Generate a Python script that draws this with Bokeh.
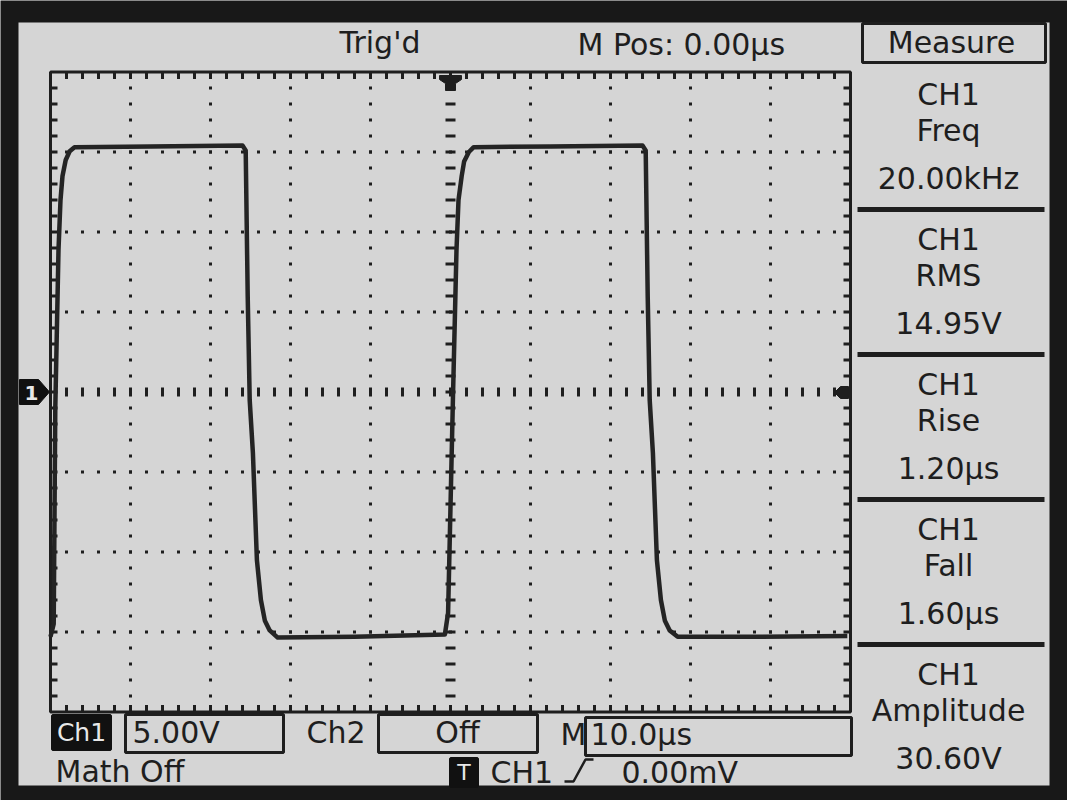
import numpy as np
from bokeh.plotting import figure
from bokeh.models import Range1d
from bokeh.core.properties import value
from bokeh.embed import file_html
from bokeh.resources import INLINE

# CH1 trace: time in microseconds (0 = trigger point), level in volts
t_us = [-50.0, -49.6, -49.4, -49.0, -48.75, -48.5, -48.1, -47.6, -47.0,
        -37.5, -26.0, -25.6, -25.35, -25.1, -24.7, -24.2, -23.7, -23.2,
        -22.6, -21.6, -12.0, -0.7, -0.3, 0.3, 0.75, 1.0, 1.4, 1.7, 2.3,
        2.9, 12.5, 24.0, 24.4, 24.65, 24.9, 25.3, 25.8, 26.3, 26.8, 27.4,
        28.4, 38.0, 49.6]
ch1_v = [-15.3, -14.5, -1.0, 8.9, 12.0, 13.5, 14.5, 15.05, 15.3,
         15.35, 15.4, 15.1, 6.0, -0.5, -3.8, -10.5, -13.0, -14.3,
         -14.9, -15.35, -15.3, -15.15, -13.8, -0.5, 8.9, 12.0, 13.5, 14.4, 15.0,
         15.3, 15.35, 15.4, 15.1, 6.0, -0.5, -3.8, -10.5, -13.0, -14.3, -14.9,
         -15.3, -15.3, -15.25]

time_per_div_us = 10.0
volts_per_div = 5.0
n_hdiv = 10
n_vdiv = 8
minor_per_div = 5

status_trig = "Trig'd"
status_pos = "M Pos: 0.00µs"
menu_title = "Measure"
measure_source = "CH1"
measure_names = ["Freq", "RMS", "Rise", "Fall", "Amplitude"]
measure_values = ["20.00kHz", "14.95V", "1.20µs", "1.60µs", "30.60V"]
ch1_label, ch1_scale = "Ch1", "5.00V"
ch2_label, ch2_state = "Ch2", "Off"
time_label, time_scale = "M", "10.0µs"
math_state = "Math Off"
trig_tag, trig_source, trig_level = "T", "CH1", "0.00mV"
ch_marker = "1"

# ---------------- layout (screen pixels of the photo) ----------------
W, H = 1067, 800
OFF = 0
GX0, GY0 = 50.0, 71.5
DIV = 80.0
GX1, GY1 = GX0 + n_hdiv * DIV, GY0 + n_vdiv * DIV
GXC, GYC = (GX0 + GX1) / 2, (GY0 + GY1) / 2
MINOR = DIV / minor_per_div

BEZEL = "#181818"
SCREEN = "#d5d5d5"
INK = "#1e1e1e"
TRACE = "#242424"
FONT = "DejaVu Sans"
FS = "30px"


def tx(X):
    return (X - GXC) * time_per_div_us / DIV


def vy(Y):
    return (GYC - Y) * volts_per_div / DIV


p = figure(width=W, height=H,
           x_range=Range1d(tx(OFF), tx(OFF + W)),
           y_range=Range1d(vy(OFF + H), vy(OFF)),
           output_backend="svg", toolbar_location=None,
           x_axis_location=None, y_axis_location=None,
           min_border=0, outline_line_color=None,
           background_fill_color=BEZEL, border_fill_color=BEZEL)
p.grid.visible = False

# screen
p.quad(left=[tx(18)], right=[tx(1049)], top=[vy(22)], bottom=[vy(785)],
       fill_color=SCREEN, line_color=None)

# graticule dots
dx, dy = [], []
for i in range(1, n_hdiv):
    if i == n_hdiv // 2:
        continue
    for k in range(1, n_vdiv * minor_per_div):
        dx.append(tx(GX0 + i * DIV)); dy.append(vy(GY0 + k * MINOR))
for j in range(1, n_vdiv):
    if j == n_vdiv // 2:
        continue
    for k in range(1, n_hdiv * minor_per_div):
        dx.append(tx(GX0 + k * MINOR)); dy.append(vy(GY0 + j * DIV))
p.scatter(dx, dy, marker="square", size=3, color=INK, line_color=None)

# center cross ticks
cx = [tx(GXC)] * (n_vdiv * minor_per_div - 1)
cy = [vy(GY0 + k * MINOR) for k in range(1, n_vdiv * minor_per_div)]
p.scatter(cx, cy, marker="dash", size=10, line_width=3, line_color=INK)
hx = [tx(GX0 + k * MINOR) for k in range(1, n_hdiv * minor_per_div)]
hy = [vy(GYC)] * len(hx)
p.scatter(hx, hy, marker="dash", size=9, angle=np.pi / 2, line_width=3, line_color=INK)

# frame ticks
TL = 7
p.scatter(hx, [vy(GY0 + TL / 2)] * len(hx), marker="dash", size=TL, angle=np.pi / 2, line_width=3, line_color=INK)
p.scatter(hx, [vy(GY1 - TL / 2)] * len(hx), marker="dash", size=TL, angle=np.pi / 2, line_width=3, line_color=INK)
p.scatter([tx(GX0 + TL / 2)] * len(cy), cy, marker="dash", size=TL, line_width=3, line_color=INK)
p.scatter([tx(GX1 - TL / 2)] * len(cy), cy, marker="dash", size=TL, line_width=3, line_color=INK)

# frame
p.quad(left=[tx(GX0)], right=[tx(GX1)], top=[vy(GY0)], bottom=[vy(GY1)],
       fill_color=None, line_color=INK, line_width=3)

# waveform
p.line(t_us, ch1_v, line_width=4.5, line_color=TRACE, line_join="round")

# markers
trig_px = [(439, 75), (461, 75), (461, 79), (455, 83), (455, 90), (445, 90), (445, 83), (439, 79)]
p.patch([tx(a) for a, b in trig_px], [vy(b) for a, b in trig_px], fill_color=INK, line_color=INK)
lvl_px = [(848, 386), (840, 386), (834, 392), (840, 398), (848, 398)]
p.patch([tx(a) for a, b in lvl_px], [vy(b) for a, b in lvl_px], fill_color=INK, line_color=INK)
ch_px = [(19, 379), (38, 379), (49, 391.5), (38, 404), (19, 404)]
p.patch([tx(a) for a, b in ch_px], [vy(b) for a, b in ch_px], fill_color="#101010", line_color="#101010")


def label(X, Y, s, align="left", color=INK, size=FS, baseline="middle", style="normal"):
    p.text(x=[tx(X)], y=[vy(Y)], text=[s], text_font=value(FONT), text_font_size=size,
           text_color=color, text_align=align, text_baseline=baseline, text_font_style=style)


def box(X0, X1, Y0, Y1, fill=None, lw=3):
    p.quad(left=[tx(X0)], right=[tx(X1)], top=[vy(Y0)], bottom=[vy(Y1)],
           fill_color=fill, line_color=INK if fill is None else fill, line_width=lw)


label(31, 392, ch_marker, align="center", color="#e8e8e8", size="20px", style="bold")

# top status
label(339, 42, status_trig)
label(577, 44, status_pos)

# measure menu
box(862, 1045, 23, 62)
label(951, 42, menu_title, align="center")
SEC0, SEC = 64, 145
PX = 948
for i, (nm, val) in enumerate(zip(measure_names, measure_values)):
    top = SEC0 + i * SEC
    if i > 0:
        p.quad(left=[tx(857)], right=[tx(1044)], top=[vy(top - 2.5)], bottom=[vy(top + 2.5)],
               fill_color=INK, line_color=None)
    label(PX, top + 30, measure_source, align="center")
    label(PX, top + 66, nm, align="center")
    label(PX, top + 114, val, align="center")

# bottom status
box(52, 110, 715, 749, fill="#111111")
label(81, 732, ch1_label, align="center", color="#e8e8e8", size="25px")
box(125, 283, 714, 752)
label(132, 732, ch1_scale)
label(306, 732, ch2_label)
box(378, 537, 714, 752)
label(457, 732, ch2_state, align="center")
label(560, 734, time_label)
box(585, 851, 717, 755)
label(590, 734, time_scale)
label(55, 771, math_state)
box(450, 477, 758, 786, fill="#111111")
label(463.5, 772, trig_tag, align="center", color="#e8e8e8", size="22px")
label(490, 772, trig_source)
slope = [(564, 781), (573, 781), (585, 759), (593, 759)]
p.line([tx(a) for a, b in slope], [vy(b) for a, b in slope], line_width=2.5, line_color=INK)
label(621, 772, trig_level)

open("out.html", "w").write(file_html(p, INLINE))
